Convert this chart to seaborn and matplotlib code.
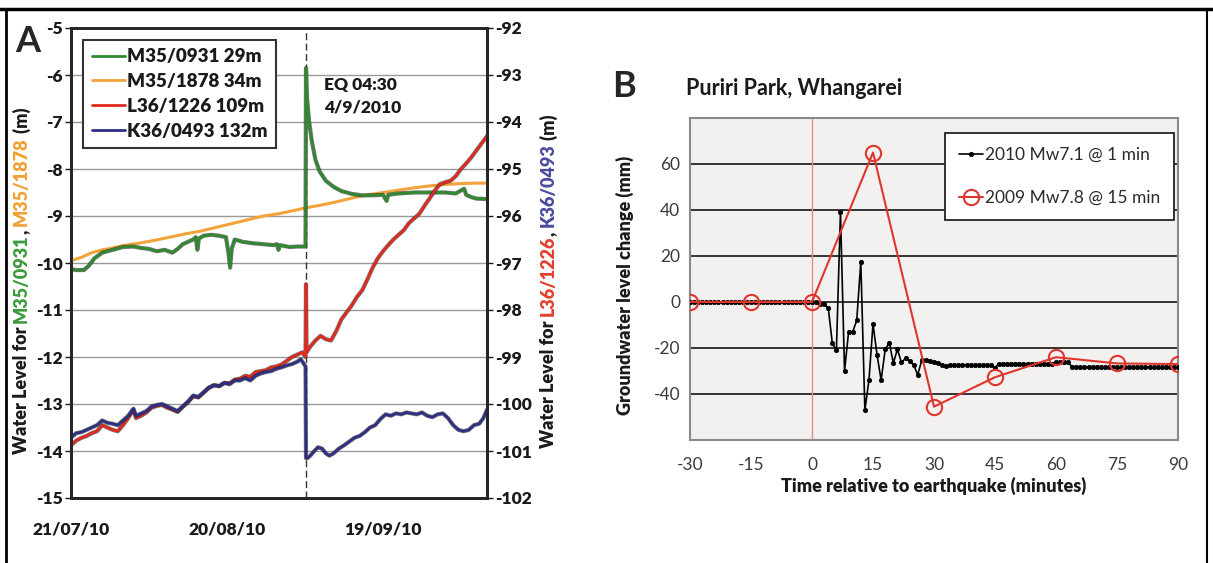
# -*- coding: utf-8 -*-

import matplotlib
matplotlib.use('Agg')
import matplotlib.pyplot as plt
import matplotlib.patheffects as pe
from matplotlib.lines import Line2D
import seaborn as sns
import pandas as pd

##### DATA #####
start = pd.Timestamp('2010-07-21')
eq_day = 45.19  # 4/9/2010 04:30

date_ticks = [0, 30, 60]
date_labels = ['21/07/10', '20/08/10', '19/09/10']
left_ticks = [-15, -14, -13, -12, -11, -10, -9, -8, -7, -6, -5]
right_ticks = [-102, -101, -100, -99, -98, -97, -96, -95, -94, -93, -92]

# M35/0931 29m (left axis, m)
g_day = [0, 1, 2.5, 3.5, 4.5, 6, 8, 10, 12, 13.5,
         15, 16.5, 18, 19.5, 20.5, 21.5, 22.5, 23.5, 24, 24.3,
         24.6, 25.5, 27, 28.5, 29.8, 30.3, 30.6, 30.9, 31.5, 33,
         35, 37, 39, 39.6, 39.9, 40.2, 42, 43.5, 45.1, 45.19,
         45.4, 45.8, 46.3, 47, 47.8, 49, 50.5, 52, 54, 56,
         58, 60, 60.7, 61, 63, 66, 69, 72, 74, 75.6,
         76, 77, 78, 80]
g_lvl = [-10.13, -10.15, -10.15, -10.05, -9.9, -9.78, -9.72, -9.66, -9.65, -9.68,
         -9.7, -9.75, -9.72, -9.78, -9.7, -9.6, -9.55, -9.5, -9.45, -9.72,
         -9.48, -9.42, -9.4, -9.42, -9.45, -9.8, -10.1, -9.7, -9.5, -9.55,
         -9.58, -9.6, -9.62, -9.6, -9.72, -9.62, -9.66, -9.65, -9.65, -5.85,
         -6.5, -7.0, -7.4, -7.8, -8.05, -8.25, -8.38, -8.47, -8.53, -8.56,
         -8.56, -8.55, -8.68, -8.55, -8.52, -8.5, -8.5, -8.5, -8.52, -8.42,
         -8.55, -8.6, -8.63, -8.64]

# M35/1878 34m (left axis, m)
o_day = [0, 2, 4, 6, 8, 10, 13, 16, 19, 22, 25, 28, 31, 34, 37,
         40, 43, 45, 48, 51, 54, 57, 60, 63, 66, 69, 72, 75, 78, 80]
o_lvl = [-9.95, -9.88, -9.78, -9.72, -9.68, -9.63, -9.58, -9.52, -9.45, -9.38,
         -9.32, -9.24, -9.16, -9.08, -9.0, -8.95, -8.88, -8.83, -8.77, -8.7,
         -8.62, -8.55, -8.5, -8.45, -8.4, -8.36, -8.33, -8.31, -8.3, -8.3]

# L36/1226 109m (right axis, m)
r_day = [0, 1, 2, 3, 4, 5, 6, 7, 8, 9, 10, 11, 12,
         12.5, 13.5, 14.5, 15.5, 16.5, 17.5, 18.5, 19.5, 20.5, 21.5,
         22.5, 23.5, 24.5, 25.5, 26.5, 27.5, 28.5, 29.5, 30.5, 31.5,
         32.5, 33.5, 34.5, 35.5, 36.5, 37.5, 38.5, 39.5, 40.5, 41.5,
         42.5, 43.5, 44.5, 45.1, 45.19, 45.3,
         46, 47, 48, 49, 50, 51, 52, 53, 54, 55,
         56, 57, 58, 59, 60, 61, 62, 63, 64, 65,
         66, 67, 68, 69, 70, 71, 72, 73, 74, 75,
         76, 77, 78, 79, 80]
r_lvl = [-100.88, -100.78, -100.72, -100.68, -100.62, -100.58, -100.45, -100.50, -100.55, -100.58, -100.45, -100.30, -100.12,
         -100.30, -100.25, -100.18, -100.08, -100.04, -100.02, -100.08, -100.12, -100.17, -100.06,
         -99.96, -99.84, -99.86, -99.76, -99.66, -99.60, -99.62, -99.55, -99.56, -99.48,
         -99.46, -99.40, -99.42, -99.32, -99.30, -99.28, -99.22, -99.20, -99.16, -99.08,
         -99.00, -98.95, -98.90, -99.00, -97.45, -98.90,
         -98.78, -98.65, -98.55, -98.62, -98.65, -98.45, -98.20, -98.05, -97.90, -97.72,
         -97.58, -97.35, -97.10, -96.90, -96.75, -96.62, -96.50, -96.40, -96.30, -96.15,
         -96.05, -95.95, -95.78, -95.62, -95.45, -95.32, -95.28, -95.25, -95.15, -95.00,
         -94.88, -94.75, -94.60, -94.45, -94.30]

# K36/0493 132m (right axis, m)
b_day = [0, 1, 2, 3, 4, 5, 6, 7, 8, 9, 10, 11, 12,
         12.5, 13.5, 14.5, 15.5, 16.5, 17.5, 18.5, 19.5, 20.5, 21.5,
         22.5, 23.5, 24.5, 25.5, 26.5, 27.5, 28.5, 29.5, 30.5, 31.5,
         32.5, 33.5, 34.5, 35.5, 36.5, 37.5, 38.5, 39.5, 40.5, 41.5,
         42.5, 43.5, 44.2, 44.8, 45.1, 45.19,
         45.5, 46, 46.8, 47.5, 48.3, 49, 49.7,
         50.5, 51.5, 52.5, 53.5, 54.5, 55.5, 56.5, 57.5, 58.5, 59.5,
         60.5, 61.5, 62.5, 63.5, 64.5, 65.5, 66.5, 67.5, 68.5, 69.5,
         70.5, 71.5, 72.5, 73.5, 74.5, 75.5, 76.5, 77.5, 78.5, 79.3, 80]
b_lvl = [-100.72, -100.62, -100.60, -100.55, -100.50, -100.45, -100.35, -100.40, -100.42, -100.45, -100.35, -100.25, -100.10,
         -100.25, -100.20, -100.15, -100.05, -100.02, -100.00, -100.05, -100.10, -100.15, -100.05,
         -99.95, -99.82, -99.85, -99.75, -99.65, -99.60, -99.62, -99.55, -99.58, -99.50,
         -99.50, -99.45, -99.50, -99.40, -99.35, -99.32, -99.30, -99.25, -99.22, -99.18,
         -99.15, -99.10, -99.05, -99.15, -99.20, -101.15,
         -101.15, -101.10, -101.00, -100.92, -100.95, -101.05, -101.10,
         -101.05, -100.95, -100.88, -100.80, -100.72, -100.68, -100.60, -100.50, -100.45, -100.32,
         -100.22, -100.25, -100.20, -100.22, -100.18, -100.20, -100.22, -100.18, -100.25, -100.28,
         -100.22, -100.20, -100.30, -100.45, -100.55, -100.58, -100.55, -100.45, -100.42, -100.30, -100.12]

legend_a = ['M35/0931 29m', 'M35/1878 34m', 'L36/1226 109m', 'K36/0493 132m']

# panel B: minutes relative to the earthquake, groundwater change (mm)
t_2010 = list(range(-30, 91))
v_2010 = [0, 0, 0, 0, 0, 0, 0, 0, 0, 0, 0, 0, 0, 0, 0, 0,
          0, 0, 0, 0, 0, 0, 0, 0, 0, 0, 0, 0, 0, 0, 0,
          0, -1, -1, -2.6, -18, -21, 39, -30, -13, -13,
          -8, 17.5, -47, -34, -9.6, -23, -34, -20.6, -17.7, -26.5,
          -20.6, -26.3, -24.5, -25.6, -27.4, -31.7, -25.2, -25.2, -25.6, -26.1,
          -26.7, -27.4, -28,
          -27.3, -27.3, -27.3, -27.3, -27.3, -27.3, -27.3, -27.3, -27.3, -27.3, -27.3,
          -28.5,
          -26.8, -26.8, -26.8, -26.8, -26.8, -26.8, -26.8, -26.8, -26.8, -26.8, -26.8, -26.8, -26.8, -26.8,
          -26.2, -26.2, -26.2, -26.2,
          -28.3, -28.3, -28.3, -28.3, -28.3, -28.3, -28.3, -28.3, -28.3, -28.3,
          -28.3, -28.3, -28.3, -28.3, -28.3, -28.3, -28.3, -28.3, -28.3, -28.3,
          -28.3, -28.3, -28.3, -28.3, -28.3, -28.3, -28.3]
t_2009 = [-30, -15, 0, 15, 30, 45, 60, 75, 90]
v_2009 = [0, 0, 0, 65, -45.5, -32.7, -24, -26.7, -27]
legend_b = ['2010 Mw7.1 @ 1 min', '2009 Mw7.8 @ 15 min']
#####

green = '#2f8a2f'
orange = '#f2a33a'
red = '#e3281e'
blue = '#2e2e86'
dark = '#1a1a1a'
heavy = 'heavy'

sns.set_style('white')
plt.rcParams['font.family'] = ['Lato', 'DejaVu Sans']
plt.rcParams['axes.unicode_minus'] = False
plt.rcParams['font.weight'] = heavy

W, H = 1213, 563
fig = plt.figure(figsize=(W / 100, H / 100), dpi=100)

##### PANEL A #####
axA = fig.add_axes([71 / W, 65 / H, 416 / W, 470 / H])
ax2 = axA.twinx()


def days(d):
    return start + pd.to_timedelta(d, unit='D')


outline = [pe.Stroke(linewidth=3.0, foreground='#1c1c1c', alpha=0.6), pe.Normal()]
sns.lineplot(x=days(o_day), y=o_lvl, ax=axA, color=orange, lw=2.2, zorder=3)
sns.lineplot(x=days(g_day), y=g_lvl, ax=axA, color=green, lw=1.9, zorder=4,
             path_effects=outline)
sns.lineplot(x=days(r_day), y=r_lvl, ax=ax2, color=red, lw=1.9, path_effects=outline)
sns.lineplot(x=days(b_day), y=b_lvl, ax=ax2, color=blue, lw=1.9, path_effects=outline)

axA.axvline(days(eq_day), color='#333333', lw=1, ls=(0, (5, 2.5)), zorder=2)

axA.set_ylim(-15, -5)
ax2.set_ylim(-102, -92)
axA.set_yticks(left_ticks, labels=[str(v) for v in left_ticks], fontweight=heavy)
ax2.set_yticks(right_ticks, labels=[str(v) for v in right_ticks], fontweight=heavy)
axA.set_xlim(days(0), days(80))
axA.set_xticks(days(date_ticks), labels=date_labels, fontweight=heavy)
axA.set_xticks(days(list(range(0, 81, 5))), minor=True)
axA.set_xlabel('')
axA.set_ylabel('')
ax2.set_ylabel('')

axA.grid(axis='y', color='#9a9a9a', lw=1)
axA.set_axisbelow(True)

axA.tick_params(axis='y', direction='out', length=4, width=1, pad=2, labelsize=12.5,
                colors=dark)
ax2.tick_params(axis='y', direction='out', length=4, width=1, pad=2, labelsize=12.5,
                colors=dark)
axA.tick_params(axis='x', which='both', direction='in', length=5, width=1.2,
                pad=17, labelsize=12.5, colors=dark)
for a in (axA, ax2):
    for s in a.spines.values():
        s.set_linewidth(2)
        s.set_color('#262626')

axA.text(days(48.6), -6.05, 'EQ 04:30\n4/9/2010', fontsize=12.5, fontweight=heavy,
         va='top', ha='left', linespacing=1.45, color=dark)

handles = [Line2D([], [], color=c, lw=2) for c in (green, orange, red, blue)]
for a in (axA, ax2):
    if a.get_legend() is not None:
        a.get_legend().remove()
leg = ax2.legend(handles, legend_a, loc='upper left', bbox_to_anchor=(0.029, 0.975),
                 borderaxespad=0, prop={'weight': heavy, 'size': 13.5},
                 frameon=True, fancybox=False, framealpha=1, edgecolor='#333333',
                 handlelength=1.8, handletextpad=0.1, borderpad=0.45, labelspacing=0.42)
leg.get_frame().set_linewidth(1.5)
for t in leg.get_texts():
    t.set_color(dark)

fig.text(15 / W, 1 - 25 / H, 'A', fontsize=26, fontweight='bold', va='top', ha='left')


def stacked_label(x, y_mid, parts, colors):
    first = fig.text(x, 0.5, parts[0], color=colors[0], rotation=90, ha='left',
                     va='bottom', fontsize=13, fontweight=heavy)
    texts = [first]
    for s, c in zip(parts[1:], colors[1:]):
        texts.append(axA.annotate(s, xy=(0, 1), xycoords=texts[-1], rotation=90,
                                  ha='left', va='bottom', color=c, fontsize=13,
                                  fontweight=heavy, annotation_clip=False))
    fig.canvas.draw()
    r = fig.canvas.get_renderer()
    lo = texts[0].get_window_extent(r).y0
    hi = texts[-1].get_window_extent(r).y1
    shift = y_mid * fig.bbox.height - (lo + hi) / 2
    first.set_y(0.5 + shift / fig.bbox.height)


stacked_label(13 / W, 1 - 281 / H,
              ['Water Level for ', 'M35/0931', ', ', 'M35/1878', ' (m)'],
              [dark, '#3c9a3c', dark, '#f0a030', dark])
stacked_label(540 / W, 1 - 281 / H,
              ['Water Level for ', 'L36/1226', ', ', 'K36/0493', ' (m)'],
              [dark, '#e3402e', dark, '#4a4a9e', dark])

##### PANEL B #####
plt.rcParams['font.weight'] = 'normal'
axB = fig.add_axes([690 / W, 123 / H, 488 / W, 322 / H])
axB.set_facecolor('#f3f1f0')

axB.axvline(0, color='#e58a85', lw=1, zorder=1)
sns.lineplot(x=t_2010, y=v_2010, ax=axB, color='black', lw=1.2, marker='o',
             markersize=3.2, markeredgecolor='black', markeredgewidth=0.5,
             label=legend_b[0], zorder=3)
sns.lineplot(x=t_2009, y=v_2009, ax=axB, color='#e0352c', lw=1.5, marker='o',
             markersize=11, markerfacecolor='none', markeredgecolor='#e0352c',
             markeredgewidth=1.5, label=legend_b[1], zorder=4)

axB.set_xlim(-30, 90)
axB.set_ylim(-60, 80)
axB.set_xticks(range(-30, 91, 15))
axB.set_yticks(range(-40, 61, 20))
axB.grid(axis='y', color='black', lw=1.1)
axB.set_axisbelow(True)
axB.tick_params(axis='x', direction='in', length=6, width=1, color='#8a8a8a',
                pad=12, labelsize=12.5, labelcolor='#3a3a3a')
axB.tick_params(axis='y', length=0, pad=7, labelsize=12.5, labelcolor='#3a3a3a')
for s in axB.spines.values():
    s.set_linewidth(1.5)
    s.set_color('#8a8a8a')

axB.set_xlabel('Time relative to earthquake (minutes)', fontsize=13, fontweight=heavy,
               color=dark)
axB.set_ylabel('Groundwater level change (mm)', fontsize=13, fontweight=heavy,
               color=dark)
axB.xaxis.set_label_coords(0.5, -0.115)
axB.yaxis.set_label_coords(-0.115, 0.48)

hb, lb = axB.get_legend_handles_labels()
legB = axB.legend(hb, lb, loc='upper left', bbox_to_anchor=(0.5225, 0.953),
                  borderaxespad=0, prop={'size': 12.5, 'weight': 'normal'},
                  frameon=True, fancybox=False,
                  framealpha=1, facecolor='white', edgecolor='#222222',
                  handlelength=1.4, handletextpad=0.1, borderpad=0.8,
                  labelspacing=1.55)
legB.get_frame().set_linewidth(1.3)
for t in legB.get_texts():
    t.set_color('#2a2a2a')

fig.text(612 / W, 1 - 70 / H, 'B', fontsize=26, fontweight='bold', va='top', ha='left')
fig.text(686 / W, 1 - 95 / H, 'Puriri Park, Whangarei', fontsize=15.5, fontweight='bold',
         va='baseline', ha='left', color=dark)

##### FRAME #####
top = 1 - 8.5 / H
fig.add_artist(Line2D([0, 1], [top, top], transform=fig.transFigure, color='black', lw=2.5))
fig.add_artist(Line2D([5.5 / W, 5.5 / W], [0, top], transform=fig.transFigure,
                      color='black', lw=2))
fig.add_artist(Line2D([1207 / W, 1207 / W], [0, top], transform=fig.transFigure,
                      color='black', lw=1.5))

fig.savefig('out.png', dpi=100)
